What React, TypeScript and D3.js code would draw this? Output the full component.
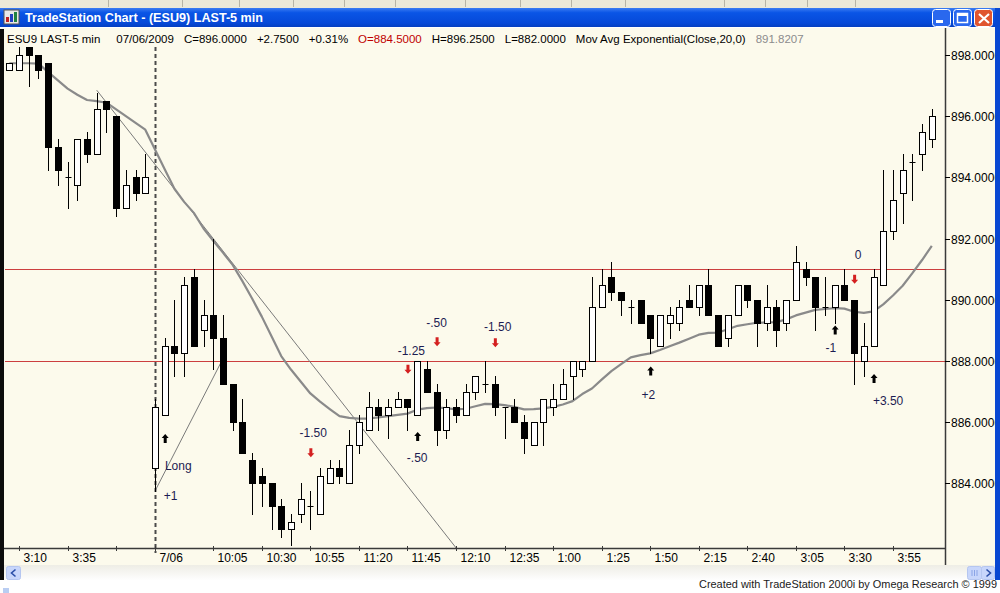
import React, { useRef, useEffect } from 'react';
import * as d3 from 'd3';

// ESU9 5-min bars, [open, high, low, close]
// last 15 bars of the prior session (3:05 .. 4:15)
const PRIOR_BARS: [number, number, number, number][] = [
  [897.5, 897.75, 897.5, 897.75],
  [897.5, 898.25, 897.5, 898.0],
  [898.25, 898.25, 897.0, 898.0],
  [898.0, 898.0, 897.25, 897.5],
  [897.75, 897.75, 894.25, 895.0],
  [895.0, 895.25, 893.75, 894.25],
  [894.0, 894.5, 893.0, 894.0],
  [893.75, 895.25, 893.25, 895.25],
  [895.25, 895.5, 894.5, 894.75],
  [894.75, 896.75, 894.75, 896.25],
  [896.5, 896.5, 895.5, 896.25],
  [896.0, 896.0, 892.75, 893.0],
  [893.0, 894.25, 893.0, 893.75],
  [894.0, 894.25, 893.25, 893.5],
  [893.5, 894.75, 893.5, 894.0],
];

// 07/06 session, 9:35 .. 4:15
const SESSION_BARS: [number, number, number, number][] = [
  [884.5, 886.75, 883.75, 886.5],
  [886.25, 888.75, 886.25, 888.5],
  [888.5, 890.0, 887.5, 888.25],
  [888.25, 890.75, 887.5, 890.5],
  [890.75, 891.0, 888.5, 888.5],
  [889.0, 890.0, 888.5, 889.5],
  [889.5, 892.0, 887.75, 888.75],
  [888.75, 889.5, 887.25, 887.25],
  [887.25, 887.25, 885.75, 886.0],
  [886.0, 886.75, 885.0, 885.0],
  [884.75, 885.0, 883.0, 884.0],
  [884.25, 884.5, 883.25, 884.0],
  [884.0, 884.0, 882.5, 883.25],
  [883.25, 883.5, 882.25, 882.5],
  [882.5, 883.0, 882.0, 882.75],
  [883.0, 884.0, 882.75, 883.5],
  [883.25, 883.75, 882.5, 883.25],
  [883.0, 884.5, 883.0, 884.25],
  [884.0, 884.75, 884.0, 884.5],
  [884.5, 884.75, 884.0, 884.25],
  [884.0, 885.75, 884.0, 885.25],
  [885.25, 886.25, 885.0, 886.0],
  [885.75, 887.0, 885.75, 886.5],
  [886.5, 886.75, 885.75, 886.25],
  [886.25, 886.75, 885.5, 886.5],
  [886.5, 887.0, 886.5, 886.75],
  [886.75, 886.75, 885.75, 886.5],
  [886.25, 888.0, 886.25, 888.0],
  [887.75, 888.0, 887.0, 887.0],
  [887.0, 887.25, 885.25, 885.75],
  [885.75, 886.75, 885.5, 886.5],
  [886.5, 886.75, 886.0, 886.25],
  [886.25, 887.25, 886.25, 887.0],
  [887.0, 887.5, 886.75, 887.5],
  [887.25, 888.0, 887.0, 887.25],
  [887.25, 887.5, 886.25, 886.5],
  [886.5, 886.5, 885.5, 886.5],
  [886.5, 886.75, 886.0, 886.0],
  [886.0, 886.25, 885.0, 885.5],
  [885.25, 886.0, 885.25, 886.0],
  [886.0, 886.75, 885.25, 886.75],
  [886.5, 887.25, 886.25, 886.75],
  [886.75, 887.75, 886.75, 887.25],
  [887.5, 888.0, 886.75, 888.0],
  [887.75, 888.0, 887.5, 888.0],
  [888.0, 890.75, 888.0, 889.75],
  [889.75, 891.0, 889.75, 890.5],
  [890.75, 891.25, 890.0, 890.25],
  [890.25, 890.25, 889.5, 890.0],
  [889.75, 890.0, 889.25, 889.75],
  [890.0, 890.0, 889.25, 889.25],
  [889.5, 889.5, 888.25, 888.75],
  [888.5, 889.5, 888.5, 889.5],
  [889.25, 889.75, 888.75, 889.5],
  [889.25, 890.0, 889.0, 889.75],
  [890.0, 890.5, 889.75, 889.75],
  [889.75, 890.5, 889.5, 890.5],
  [890.5, 891.0, 889.5, 889.5],
  [889.5, 889.5, 888.5, 888.5],
  [888.75, 889.5, 888.5, 889.5],
  [889.5, 890.5, 889.5, 890.5],
  [890.5, 890.5, 889.75, 890.0],
  [890.0, 890.0, 888.5, 889.25],
  [889.25, 890.5, 889.0, 889.75],
  [889.75, 890.0, 888.5, 889.0],
  [889.25, 890.0, 889.0, 890.0],
  [890.0, 891.75, 890.0, 891.25],
  [891.0, 891.25, 890.5, 890.75],
  [890.75, 890.75, 889.0, 889.75],
  [889.75, 890.75, 889.5, 889.75],
  [889.75, 890.5, 889.25, 890.5],
  [890.5, 891.0, 890.0, 890.0],
  [890.0, 890.0, 887.25, 888.25],
  [888.0, 889.25, 887.5, 888.5],
  [888.5, 891.0, 888.5, 890.75],
  [890.5, 894.25, 890.5, 892.25],
  [892.25, 894.25, 892.0, 893.25],
  [893.5, 894.75, 892.5, 894.25],
  [894.5, 894.75, 893.25, 894.5],
  [894.75, 895.75, 894.25, 895.5],
  [895.25, 896.25, 895.0, 896.0],
];

// Mov Avg Exponential(Close,20,0), one value per bar (prior 15 + session 81)
const EMA20 = [
  897.73, 897.73, 897.73, 897.72, 897.44, 897.17, 896.9, 896.7, 896.53, 896.49,
  896.44, 896.22, 896.0, 895.78, 895.56,
  894.91, 894.27, 893.63, 893.2, 892.84, 892.33, 891.93, 891.54, 891.14, 890.61,
  890.04, 889.45, 888.81, 888.16, 887.72, 887.33, 886.94, 886.67, 886.43, 886.2,
  886.14, 886.12, 886.12, 886.16, 886.2, 886.24, 886.28, 886.41, 886.46, 886.48,
  886.46, 886.42, 886.44, 886.52, 886.6, 886.59, 886.56, 886.5, 886.42, 886.43,
  886.45, 886.5, 886.58, 886.69, 886.92, 887.1, 887.39, 887.67, 887.9, 888.12,
  888.19, 888.25, 888.36, 888.48, 888.6, 888.73, 888.86, 888.92, 888.93, 889.04,
  889.15, 889.2, 889.25, 889.26, 889.27, 889.36, 889.49, 889.58, 889.67, 889.7,
  889.73, 889.71, 889.61, 889.57, 889.62, 889.85, 890.14, 890.46, 890.87, 891.3,
  891.76,
];

const LEVELS = [891, 888];
const PRICE_TICKS = [884, 886, 888, 890, 892, 894, 896, 898];

// bar index (0 = first bar of 07/06) and label
const TIME_TICKS: [number, string][] = [
  [-14, '3:10'], [-9, '3:35'], [-4, ''], [0, '7/06'], [6, '10:05'], [11, '10:30'],
  [16, '10:55'], [21, '11:20'], [26, '11:45'], [31, '12:10'], [36, '12:35'],
  [41, '1:00'], [46, '1:25'], [51, '1:50'], [56, '2:15'], [61, '2:40'],
  [66, '3:05'], [71, '3:30'], [76, '3:55'],
];

// trade markers: bar, price, direction
const ARROWS: [number, number, 'up' | 'down'][] = [
  [1, 885.47, 'up'], [16, 885.0, 'down'], [26, 887.73, 'down'], [27, 885.53, 'up'],
  [29, 888.63, 'down'], [35, 888.6, 'down'], [51, 887.67, 'up'], [70, 889.01, 'up'],
  [72, 890.67, 'down'], [74, 887.43, 'up'],
];

const NOTES: [number, number, string][] = [
  [2.4, 884.44, 'Long'], [1.6, 883.46, '+1'], [16.3, 885.52, '-1.50'],
  [29, 889.11, '-.50'], [26.4, 888.2, '-1.25'], [35.3, 888.98, '-1.50'],
  [27, 884.7, '-.50'], [50.8, 886.76, '+2'], [72.4, 891.33, '0'],
  [69.6, 888.29, '-1'], [75.5, 886.56, '+3.50'],
];

// hand-drawn trend lines: [bar, price] pairs, extend to bottom?
const TRENDLINES: [[number, number], [number, number], boolean][] = [
  [[-6, 896.85], [6, 892.0], true],
  [[0, 883.75], [6.87, 888.0], false],
];

// status line segments: text, gap before, colour
const HEADER: [string, number, string][] = [
  ['ESU9 LAST-5 min', 0, '#000'],
  ['07/06/2009', 16, '#000'],
  ['C=896.0000', 10, '#000'],
  ['+2.7500', 10, '#000'],
  ['+0.31%', 10, '#000'],
  ['O=884.5000', 10, '#c00000'],
  ['H=896.2500', 10, '#000'],
  ['L=882.0000', 10, '#000'],
  ['Mov Avg Exponential(Close,20,0)', 10, '#000'],
  ['891.8207', 10, '#8c8c8c'],
];

const FONT = '"Liberation Sans", Arial, sans-serif';
const CREAM = '#fcfaec';

const App: React.FC = () => {
  const ref = useRef<SVGSVGElement>(null);

  useEffect(() => {
    if (!ref.current) return;
    const svg = d3.select(ref.current);
    svg.selectAll('*').remove();

    const plot = { left: 5, right: 945, top: 29, bottom: 548 };
    const bars = [...PRIOR_BARS, ...SESSION_BARS];
    const offset = PRIOR_BARS.length;

    const x = d3.scaleLinear().domain([0, 80]).range([155, 155 + 80 * 9.71]);
    const y = d3.scaleLinear().domain([888, 898]).range([361, 55]);
    const px = (v: number) => Math.round(v) + 0.5;

    const defs = svg.append('defs');
    const tg = defs.append('linearGradient').attr('id', 'titleGrad').attr('x1', 0).attr('y1', 0).attr('x2', 0).attr('y2', 1);
    tg.append('stop').attr('offset', 0).attr('stop-color', '#3b7cf2');
    tg.append('stop').attr('offset', 0.25).attr('stop-color', '#0a55e6');
    tg.append('stop').attr('offset', 0.8).attr('stop-color', '#0649d8');
    tg.append('stop').attr('offset', 1).attr('stop-color', '#053fc0');
    const sg = defs.append('linearGradient').attr('id', 'scrollGrad').attr('x1', 0).attr('y1', 0).attr('x2', 0).attr('y2', 1);
    sg.append('stop').attr('offset', 0).attr('stop-color', '#eeede5');
    sg.append('stop').attr('offset', 1).attr('stop-color', '#fefefe');
    defs.append('clipPath').attr('id', 'plotClip').append('rect')
      .attr('x', plot.left).attr('y', plot.top).attr('width', plot.right - plot.left).attr('height', plot.bottom - plot.top);
    defs.append('clipPath').attr('id', 'axisClip').append('rect')
      .attr('x', plot.right).attr('y', plot.top).attr('width', 995 - plot.right).attr('height', 540);

    // window chrome
    svg.append('rect').attr('width', 1000).attr('height', 593).attr('fill', '#fff');
    svg.append('rect').attr('width', 1000).attr('height', 8).attr('fill', '#ece9d8');
    [108, 182, 239, 293, 344, 395, 465, 520, 571, 625, 724, 765, 807, 855].forEach((sx) => {
      svg.append('line').attr('x1', sx + 0.5).attr('x2', sx + 0.5).attr('y1', 0).attr('y2', 7)
        .attr('stroke', '#b8b5a6');
    });
    svg.append('rect').attr('y', 8).attr('width', 1000).attr('height', 19).attr('fill', 'url(#titleGrad)');
    // app icon
    const icon = svg.append('g').attr('transform', 'translate(4,10)');
    icon.append('rect').attr('width', 15).attr('height', 14).attr('fill', '#e8e8e8').attr('stroke', '#555');
    icon.append('rect').attr('x', 2).attr('y', 7).attr('width', 3).attr('height', 5).attr('fill', '#c02020');
    icon.append('rect').attr('x', 6).attr('y', 4).attr('width', 3).attr('height', 8).attr('fill', '#2040c0');
    icon.append('rect').attr('x', 10).attr('y', 2).attr('width', 3).attr('height', 10).attr('fill', '#208040');
    svg.append('text').attr('x', 25).attr('y', 22).text('TradeStation Chart - (ESU9)  LAST-5 min')
      .attr('textLength', 238).attr('lengthAdjust', 'spacingAndGlyphs')
      .style('font-family', FONT).style('font-weight', 'bold').style('font-size', '13px').style('fill', '#fff');

    // caption buttons
    const btn = (bx: number, fill: string) =>
      svg.append('rect').attr('x', bx).attr('y', 9.5).attr('width', 18).attr('height', 17).attr('rx', 3)
        .attr('fill', fill).attr('stroke', '#fff').attr('stroke-width', 1);
    btn(932.5, '#2a68ee');
    svg.append('rect').attr('x', 936).attr('y', 20).attr('width', 7).attr('height', 3).attr('fill', '#fff');
    btn(953.5, '#2a68ee');
    svg.append('rect').attr('x', 957.5).attr('y', 13.5).attr('width', 10).attr('height', 9)
      .attr('fill', 'none').attr('stroke', '#fff').attr('stroke-width', 1.5);
    svg.append('rect').attr('x', 957).attr('y', 13).attr('width', 11).attr('height', 3).attr('fill', '#fff');
    btn(974.5, '#e0552f');
    svg.append('path').attr('d', 'M979,14 L989,23 M989,14 L979,23').attr('stroke', '#fff').attr('stroke-width', 2.2);

    // chart canvas
    svg.append('rect').attr('x', 0).attr('y', 27).attr('width', 995).attr('height', 538).attr('fill', CREAM);
    svg.append('line').attr('x1', 0).attr('x2', 995).attr('y1', 27.5).attr('y2', 27.5).attr('stroke', '#fff');
    svg.append('rect').attr('x', 0).attr('y', 29).attr('width', 4).attr('height', 551).attr('fill', '#0c0c0c');
    svg.append('rect').attr('x', 995).attr('y', 8).attr('width', 5).attr('height', 572).attr('fill', '#0847d2');

    // status line, laid out by measured width
    let hx = 7;
    HEADER.forEach(([t, gap, col]) => {
      hx += gap;
      const node = svg.append('text').attr('x', hx).attr('y', 43).text(t)
        .style('font-family', FONT).style('font-size', '11.5px').style('fill', col);
      hx += (node.node() as SVGTextElement).getComputedTextLength();
    });

    // session separator (under the bars)
    svg.append('line').attr('x1', px(x(0))).attr('x2', px(x(0))).attr('y1', 47).attr('y2', 553)
      .attr('stroke', '#4a4a4a').attr('stroke-width', 2).attr('stroke-dasharray', '4,3');

    const g = svg.append('g').attr('clip-path', 'url(#plotClip)');

    // support / resistance levels
    LEVELS.forEach((lv) => {
      g.append('line').attr('x1', plot.left).attr('x2', plot.right)
        .attr('y1', px(y(lv))).attr('y2', px(y(lv))).attr('stroke', '#cc3f3f').attr('stroke-width', 1.2);
    });

    // trend lines
    TRENDLINES.forEach(([a, b, extend]) => {
      let end = b;
      if (extend) {
        const slope = (b[1] - a[1]) / (b[0] - a[0]);
        const pBottom = y.invert(plot.bottom);
        end = [a[0] + (pBottom - a[1]) / slope, pBottom];
      }
      g.append('line').attr('x1', x(a[0])).attr('y1', y(a[1])).attr('x2', x(end[0])).attr('y2', y(end[1]))
        .attr('stroke', '#7a7a7a').attr('stroke-width', 1);
    });

    // EMA
    const ema = d3.line<number>().x((_, i) => x(i - offset)).y((d) => y(d));
    g.append('path').attr('d', ema(EMA20)).attr('fill', 'none')
      .attr('stroke', '#8a8a8a').attr('stroke-width', 2.2).attr('stroke-linejoin', 'round');

    // candles
    const cg = g.append('g');
    bars.forEach(([o, h, l, c], i) => {
      const cx = px(x(i - offset));
      cg.append('line').attr('x1', cx).attr('x2', cx).attr('y1', Math.round(y(h))).attr('y2', Math.round(y(l)) + 1)
        .attr('stroke', '#000').attr('stroke-width', 1);
      const top = Math.round(y(Math.max(o, c)));
      const bot = Math.round(y(Math.min(o, c)));
      if (o === c) {
        cg.append('line').attr('x1', cx - 3).attr('x2', cx + 3).attr('y1', top + 0.5).attr('y2', top + 0.5)
          .attr('stroke', '#000');
      } else {
        cg.append('rect').attr('x', cx - 3).attr('y', top + 0.5).attr('width', 6).attr('height', Math.max(1, bot - top))
          .attr('fill', c > o ? '#fff' : '#000').attr('stroke', '#000').attr('stroke-width', 1);
      }
    });

    // trade arrows
    ARROWS.forEach(([b, p, dir]) => {
      const cx = x(b) + 0.5;
      const cy = y(p);
      const s = dir === 'up' ? 1 : -1;
      const tip = cy - 4.5 * s;
      const pts: [number, number][] = [
        [cx, tip], [cx + 3.5, tip + 4 * s], [cx + 1.5, tip + 4 * s], [cx + 1.5, tip + 9 * s],
        [cx - 1.5, tip + 9 * s], [cx - 1.5, tip + 4 * s], [cx - 3.5, tip + 4 * s],
      ];
      svg.append('path').attr('d', 'M' + pts.map((q) => q.join(',')).join('L') + 'Z')
        .attr('fill', dir === 'up' ? '#000' : '#d42020');
    });

    NOTES.forEach(([b, p, t]) => {
      svg.append('text').attr('x', x(b)).attr('y', y(p)).text(t).attr('text-anchor', 'middle')
        .style('font-family', FONT).style('font-size', '12px').style('fill', '#1c1c52');
    });

    // price axis
    svg.append('line').attr('x1', plot.right + 0.5).attr('x2', plot.right + 0.5).attr('y1', 28).attr('y2', 565)
      .attr('stroke', '#3a3a3a').attr('stroke-width', 1.5);
    const ya = svg.append('g').attr('clip-path', 'url(#axisClip)');
    PRICE_TICKS.forEach((p) => {
      const ty = px(y(p));
      ya.append('line').attr('x1', plot.right).attr('x2', plot.right + 5).attr('y1', ty).attr('y2', ty)
        .attr('stroke', '#000');
      ya.append('text').attr('x', plot.right + 6).attr('y', ty + 4).text(d3.format('.4f')(p))
        .style('font-family', FONT).style('font-size', '12px').style('fill', '#000');
    });

    // time axis
    svg.append('line').attr('x1', 4).attr('x2', plot.right).attr('y1', plot.bottom + 0.5).attr('y2', plot.bottom + 0.5)
      .attr('stroke', '#3a3a3a').attr('stroke-width', 1.5);
    TIME_TICKS.forEach(([b, t]) => {
      const tx = px(x(b));
      svg.append('line').attr('x1', tx).attr('x2', tx).attr('y1', plot.bottom - 2).attr('y2', plot.bottom + 3)
        .attr('stroke', '#3a3a3a');
      svg.append('text').attr('x', tx + 4).attr('y', 562).text(t)
        .style('font-family', FONT).style('font-size', '12px').style('fill', '#000');
    });

    // scroll bar
    svg.append('rect').attr('x', 4).attr('y', 565).attr('width', 991).attr('height', 15).attr('fill', 'url(#scrollGrad)');
    svg.append('rect').attr('x', 6.5).attr('y', 566.5).attr('width', 14).attr('height', 13).attr('rx', 2)
      .attr('fill', '#c8d6fb').attr('stroke', '#b5c6f0');
    svg.append('path').attr('d', 'M15.5,569.5 L11.5,573 L15.5,576.5').attr('fill', 'none')
      .attr('stroke', '#2a4ea8').attr('stroke-width', 1.6);
    svg.append('rect').attr('x', 967.5).attr('y', 566.5).attr('width', 14).attr('height', 13).attr('rx', 2)
      .attr('fill', '#c8d6fb').attr('stroke', '#b5c6f0');
    [972, 974.5, 977].forEach((gx) => {
      svg.append('line').attr('x1', gx).attr('x2', gx).attr('y1', 570).attr('y2', 576).attr('stroke', '#8aa4e6');
    });
    svg.append('rect').attr('x', 981.5).attr('y', 566.5).attr('width', 13).attr('height', 13).attr('rx', 2)
      .attr('fill', '#c8d6fb').attr('stroke', '#b5c6f0');
    svg.append('path').attr('d', 'M986.5,569.5 L990.5,573 L986.5,576.5').attr('fill', 'none')
      .attr('stroke', '#2a4ea8').attr('stroke-width', 1.6);

    svg.append('rect').attr('x', 3).attr('y', 588).attr('width', 6).attr('height', 5).attr('fill', '#b9cdf2');
    svg.append('text').attr('x', 997).attr('y', 588).attr('text-anchor', 'end')
      .text('Created with TradeStation 2000i by Omega Research \u00a9 1999')
      .attr('textLength', 298).attr('lengthAdjust', 'spacingAndGlyphs')
      .style('font-family', FONT).style('font-size', '11px').style('fill', '#1a1a1a');
  }, []);

  return (
    <svg
      ref={ref}
      width={1000}
      height={593}
      style={{ position: 'absolute', left: 0, top: 0, display: 'block' }}
    />
  );
};

export default App;
